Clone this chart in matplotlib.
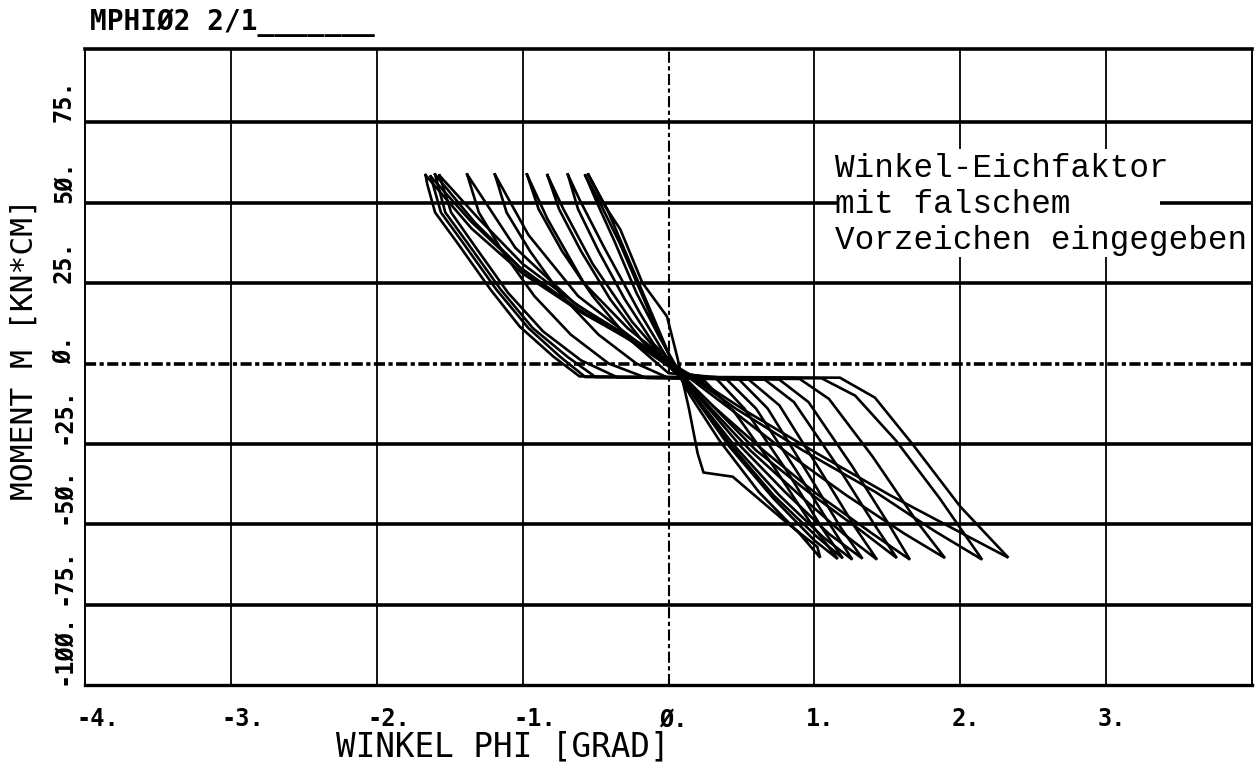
import matplotlib
matplotlib.use("Agg")
import matplotlib.pyplot as plt
from matplotlib.patches import Rectangle
from matplotlib.transforms import ScaledTranslation

plt.rcParams['lines.scale_dashes'] = False

# ---------------- data ----------------
x_ticks = [-4, -3, -2, -1, 0, 1, 2, 3]
x_tick_labels = ["-4.", "-3.", "-2.", "-1.", "Ø.", "1.", "2.", "3."]
y_ticks = [-100, -75, -50, -25, 0, 25, 50, 75]
y_tick_labels = ["-1ØØ.", "-75.", "-5Ø.", "-25.", "Ø.", "25.", "5Ø.", "75."]
x_label = "WINKEL PHI [GRAD]"
y_label = "MOMENT M [KN*CM]"
title = "MPHIØ2 2/1_______"
note_lines = ["Winkel-Eichfaktor", "mit falschem", "Vorzeichen eingegeben"]

loop01_phi = [-0.55, -0.45, -0.33, -0.18, -0.01, 0.06, 0.14, 0.20, 0.24, 0.44, 0.81, 1.02, 1.04,
              0.90, 0.62, 0.35, 0.15, 0.03, -0.10, -0.27, -0.42, -0.55]
loop01_m = [58.8, 50, 41.7, 25.2, 14.6, 2, -14, -28, -33.9, -35.2, -49.5, -57, -60.4,
            -53, -40, -24, -10, 0, 14, 32, 48, 58.8]

loop02_phi = [-0.57, -0.49, -0.37, -0.22, -0.06, 0.08, 0.25, 0.45, 0.72, 0.98, 1.16,
              1.00, 0.72, 0.42, 0.17, 0.02, -0.14, -0.33, -0.48, -0.57]
loop02_m = [58.5, 50, 38, 22, 8, -3, -5.5, -15, -32, -50, -60.8,
            -55, -42, -26, -10, 1, 17, 37, 51, 58.5]

loop03_phi = [-0.69, -0.62, -0.48, -0.30, -0.10, 0.10, 0.33, 0.52, 0.82, 1.05, 1.195,
              1.02, 0.72, 0.42, 0.16, 0.0, -0.20, -0.44, -0.61, -0.69]
loop03_m = [58.8, 48, 35, 20, 6, -3, -4.8, -14, -34, -51, -60.6,
            -54, -41, -25, -9, 1, 16, 36, 51, 58.8]

loop04_phi = [-0.83, -0.75, -0.60, -0.40, -0.18, 0.05, 0.40, 0.60, 0.90, 1.12, 1.26,
              1.06, 0.76, 0.46, 0.18, 0.0, -0.25, -0.52, -0.72, -0.83]
loop04_m = [58.6, 48, 35, 20, 7, -3, -5, -14, -35, -51, -61,
            -54, -41, -26, -10, 0, 13, 31, 48, 58.6]

loop05_phi = [-0.97, -0.89, -0.73, -0.52, -0.28, 0.0, 0.48, 0.68, 0.98, 1.18, 1.33,
              1.10, 0.80, 0.50, 0.20, 0.02, -0.28, -0.58, -0.83, -0.97]
loop05_m = [58.8, 48, 35, 21, 8, -3, -4.8, -14, -36, -51, -60.7,
            -53, -40, -26, -10, 0, 11, 25, 45, 58.8]

loop06_phi = [-1.19, -1.11, -0.95, -0.73, -0.48, -0.22, 0.0, 0.55, 0.76, 1.05, 1.28, 1.43,
              1.20, 0.90, 0.56, 0.25, 0.05, -0.25, -0.62, -0.96, -1.19]
loop06_m = [58.8, 47, 35, 21, 9, 0, -4.5, -5, -13, -34, -51, -61,
            -53, -41, -27, -12, -2, 8, 21, 40, 58.8]

loop07_phi = [-1.38, -1.30, -1.14, -0.92, -0.67, -0.41, -0.15, 0.66, 0.86, 1.16, 1.41, 1.565,
              1.32, 0.96, 0.60, 0.30, 0.07, -0.22, -0.65, -1.05, -1.38]
loop07_m = [58.8, 47, 35, 21, 9, 0, -4.5, -5, -12, -32, -50, -60.5,
            -52, -40, -27, -13, -3, 6, 19, 36, 58.8]

loop08_phi = [-1.57, -1.49, -1.32, -1.10, -0.86, -0.60, -0.35, 0.76, 0.96, 1.26, 1.51, 1.655,
              1.40, 1.00, 0.65, 0.30, 0.08, -0.15, -0.61, -1.00, -1.30, -1.57]
loop08_m = [58.5, 47, 36, 22, 10, 1, -4.3, -5, -12, -32, -50, -61,
            -53, -40, -27, -13, -3, 5, 17.7, 31, 45, 58.5]

loop09_phi = [-1.60, -1.53, -1.37, -1.15, -0.93, -0.69, -0.50, 0.90, 1.10, 1.40, 1.70, 1.895,
              1.62, 1.22, 0.82, 0.42, 0.10, -0.18, -0.62, -1.02, -1.33, -1.60]
loop09_m = [58.8, 47, 37, 23, 11, 2, -4.2, -4.8, -11, -29, -49, -60.5,
            -53, -41, -28, -14, -3, 5, 17, 30, 44, 58.8]

loop10_phi = [-1.63, -1.56, -1.40, -1.18, -0.96, -0.74, -0.57, 1.05, 1.28, 1.56, 1.86, 2.15,
              1.82, 1.42, 0.92, 0.46, 0.12, -0.16, -0.60, -1.00, -1.35, -1.63]
loop10_m = [58.2, 47, 37, 23, 11, 2, -4.2, -4.6, -10, -24, -42, -61,
            -52, -40, -27, -14, -3, 5, 16, 29, 44, 58.2]

loop11_phi = [-1.665, -1.655, -1.60, -1.45, -1.22, -1.02, -0.79, -0.61, 1.175, 1.415, 1.675, 2.00, 2.33,
              2.02, 1.52, 1.02, 0.52, 0.15, -0.15, -0.60, -1.00, -1.35, -1.665]
loop11_m = [58.6, 56, 47, 37.7, 23, 11.5, 2.2, -4, -4.4, -10.6, -25.2, -44.5, -60.4,
            -53, -41, -28, -14.5, -3.5, 4.5, 16, 28, 42, 58.6]

loops = [(loop01_phi, loop01_m), (loop02_phi, loop02_m), (loop03_phi, loop03_m),
         (loop04_phi, loop04_m), (loop05_phi, loop05_m), (loop06_phi, loop06_m),
         (loop07_phi, loop07_m), (loop08_phi, loop08_m), (loop09_phi, loop09_m),
         (loop10_phi, loop10_m), (loop11_phi, loop11_m)]

# ---------------- figure ----------------
fig = plt.figure(figsize=(12.6, 7.64), dpi=100)
ax = fig.add_axes([85/1260, 1-685/764, (1252-85)/1260, (685-48.5)/764])
ax.set_xlim(-4, 4)
ax.set_ylim(-100, 98)

mono = "DejaVu Sans Mono"

# grid
for yv in y_ticks:
    if yv == 0:
        ax.axhline(yv, color="black", lw=2.6, ls=(0, (8, 2.5, 3, 2.5)), zorder=1)
    elif yv > -100:
        ax.axhline(yv, color="black", lw=2.6, zorder=1)
for xv in x_ticks:
    if xv == 0:
        ax.axvline(xv, color="black", lw=1.5, ls=(0, (8, 2.5, 3, 2.5)), zorder=1)
    elif xv > -4:
        ax.axvline(xv, color="black", lw=1.3, zorder=1)

# curves
for phi, m in loops:
    ax.plot(phi, m, color="black", lw=1.9, solid_joinstyle="miter", zorder=3)

# note pasted over the grid
ax.add_patch(Rectangle((1.16, 33.0), 2.21, 33.6, facecolor="white", edgecolor="none", zorder=2))
for txt, yb in zip(note_lines, [57.9, 46.7, 35.5]):
    ax.text(1.141, yb, txt, fontsize=23.5, family="Liberation Mono", va="baseline", ha="left",
            color="black", zorder=4)

# spines
for side, lw in (("top", 2.6), ("bottom", 2.4), ("left", 1.4), ("right", 1.4)):
    ax.spines[side].set_linewidth(lw)
    ax.spines[side].set_color("black")

# ticks
ax.set_xticks(x_ticks)
ax.set_xticklabels(x_tick_labels, family=mono, fontsize=17, weight="bold", ha="left")
ax.set_yticks(y_ticks)
ax.set_yticklabels(y_tick_labels, family=mono, fontsize=17, weight="bold", rotation=90,
                   va="bottom", ha="center")
ax.tick_params(axis="x", length=0, pad=16)
ax.tick_params(axis="y", length=0, pad=15.5)
shift = ScaledTranslation(-9/100, 0, fig.dpi_scale_trans)
for lab in ax.get_xticklabels():
    lab.set_transform(lab.get_transform() + shift)

ax.set_xlabel(x_label, family=mono, fontsize=23.5, va="center", ha="center")
ax.xaxis.set_label_coords(0.358, -0.0965)
ax.set_ylabel(y_label, family=mono, fontsize=22.5, va="center", ha="center")
ax.yaxis.set_label_coords(-0.052, 0.528)

fig.text(90/1260, 1-30/764, title, family=mono, fontsize=20, weight="bold",
         va="baseline", ha="left")

fig.savefig("out.png", dpi=100)
